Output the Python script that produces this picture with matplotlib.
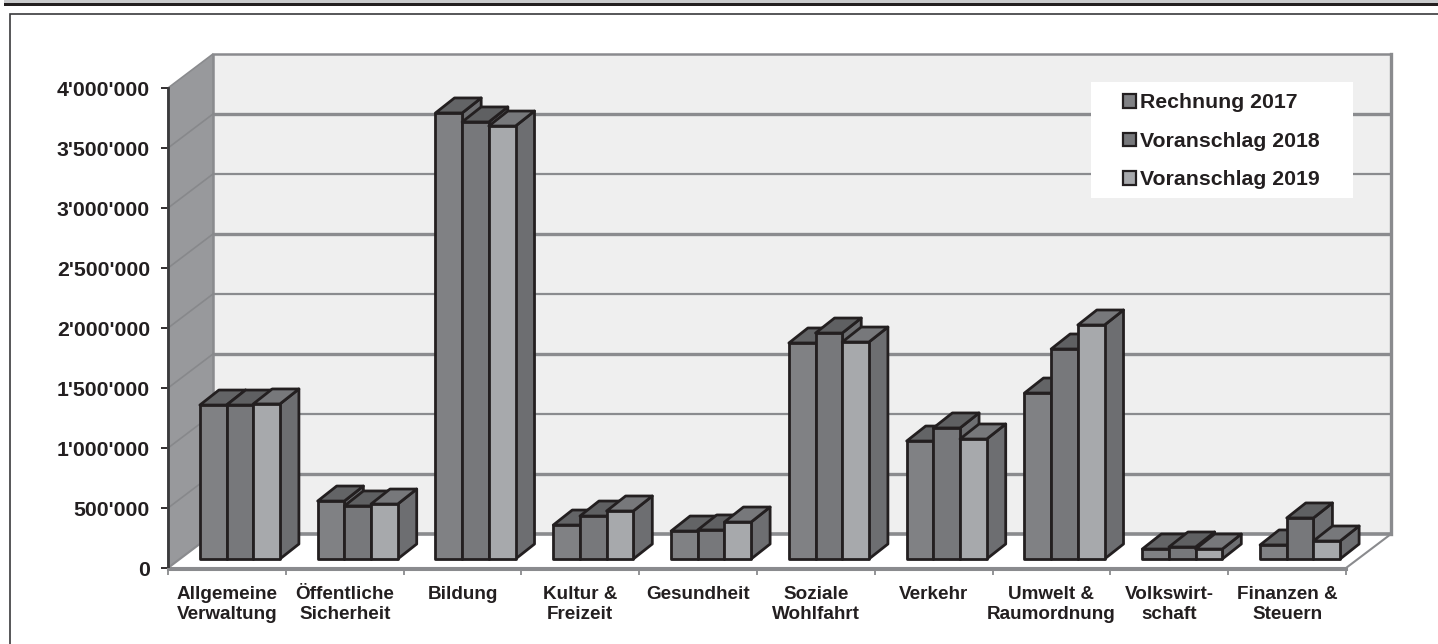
import matplotlib
matplotlib.use("Agg")
import matplotlib.pyplot as plt
from matplotlib.patches import Polygon, Rectangle, Patch
from matplotlib.ticker import FuncFormatter

plt.rcParams['font.family'] = ['Liberation Sans', 'DejaVu Sans']

W, H = 1438, 644
categories = ["Allgemeine\nVerwaltung", "Öffentliche\nSicherheit", "Bildung", "Kultur &\nFreizeit",
              "Gesundheit", "Soziale\nWohlfahrt", "Verkehr", "Umwelt &\nRaumordnung",
              "Volkswirt-\nschaft", "Finanzen &\nSteuern"]
series_names = ["Rechnung 2017", "Voranschlag 2018", "Voranschlag 2019"]
rechnung_2017 = [1283000, 483000, 3717000, 283000, 233000, 1800000, 983000, 1383000, 83000, 117000]
voranschlag_2018 = [1283000, 442000, 3642000, 358000, 242000, 1883000, 1092000, 1750000, 100000, 342000]
voranschlag_2019 = [1292000, 458000, 3608000, 400000, 308000, 1808000, 1000000, 1950000, 83000, 150000]
series = [rechnung_2017, voranschlag_2018, voranschlag_2019]
front_colors = ["#808184", "#77787b", "#a7a9ac"]
top_colors = ["#636466", "#5f6062", "#77787b"]
side_colors = ["#6d6e71", "#6d6e71", "#6d6e71"]
EDGE = "#231f20"
GRID = "#8a8b8e"

fig = plt.figure(figsize=(W / 100, H / 100), dpi=100, facecolor="white")

# page decorations
page = fig.add_axes([0, 0, 1, 1], zorder=0)
page.set_xlim(0, W); page.set_ylim(H, 0); page.axis("off")
page.add_patch(Rectangle((4, 0), W - 4, 3.2, fc="#c9cacc", ec="none"))
page.add_patch(Rectangle((4, 3.2), W - 4, 2.9, fc="#231f20", ec="none"))
page.plot([9.5, 9.5, W], [H, 13.5, 13.5], color="#3a3a3c", lw=1.2, solid_joinstyle="miter")

# axes: the front plane of the 3D box
x0, x1, ybot, ytop = 168, 1346, 568, 88
ax = fig.add_axes([x0 / W, 1 - ybot / H, (x1 - x0) / W, (ybot - ytop) / H], zorder=1)
ax.set_xlim(0, 10); ax.set_ylim(0, 4000000)
ax.patch.set_alpha(0)
for s in ax.spines.values():
    s.set_visible(False)

ux = (x1 - x0) / 10          # px per category
uy = (ybot - ytop) / 4000000  # px per value unit
DX, DY = 45 / ux, 34 / uy    # box depth in data units
yticks = list(range(0, 4000001, 500000))

# walls
ax.add_patch(Polygon([(DX, DY), (10 + DX, DY), (10 + DX, 4000000 + DY), (DX, 4000000 + DY)],
                     fc="#efefef", ec=GRID, lw=1.8, clip_on=False, zorder=1))
ax.add_patch(Polygon([(0, 0), (DX, DY), (DX, 4000000 + DY), (0, 4000000)],
                     fc="#98999c", ec=GRID, lw=1.2, clip_on=False, zorder=1))
ax.add_patch(Polygon([(0, 0), (10, 0), (10 + DX, DY), (DX, DY)],
                     fc="white", ec=GRID, lw=1.5, clip_on=False, zorder=1))
for i, v in enumerate(yticks[1:-1][::-1]):
    lw = 2.4 if i % 2 == 0 else 1.6
    ax.plot([DX, 10 + DX], [v + DY, v + DY], color=GRID, lw=lw, clip_on=False, zorder=2, solid_capstyle="butt")
    ax.plot([0, DX], [v, v + DY], color="#87888b", lw=1.2, clip_on=False, zorder=2)
ax.plot([DX, 10 + DX], [DY, DY], color=GRID, lw=2.6, clip_on=False, zorder=2, solid_capstyle="butt")
ax.plot([10 + DX, 10 + DX], [DY, 4000000 + DY], color=GRID, lw=2.4, clip_on=False, zorder=2)

# legend background (covers gridlines)
ax.add_patch(Rectangle(((1091 - x0) / ux, (ybot - 198) / uy), 262 / ux, 116 / uy,
                       fc="white", ec="none", clip_on=False, zorder=3))

# bars
bar_w = 26.67 / ux
off_x, off_y = 13 / ux, 9 / uy   # placement of the front plane of bars on the floor
dep_x, dep_y = 19 / ux, 15 / uy  # bar depth
z = 10
for c in range(len(categories)):
    start = c + 0.5 - 1.5 * bar_w + off_x
    for s, vals in enumerate(series):
        v = vals[c]
        l, r = start + s * bar_w, start + (s + 1) * bar_w
        b, t = off_y, off_y + v
        kw = dict(ec=EDGE, lw=2.0, joinstyle="round", clip_on=False, zorder=z)
        ax.add_patch(Polygon([(r, b), (r + dep_x, b + dep_y), (r + dep_x, t + dep_y), (r, t)],
                             fc=side_colors[s], **kw))
        ax.add_patch(Polygon([(l, t), (l + dep_x, t + dep_y), (r + dep_x, t + dep_y), (r, t)],
                             fc=top_colors[s], **kw))
        ax.add_patch(Polygon([(l, b), (r, b), (r, t), (l, t)], fc=front_colors[s], **kw))
        z += 1

# y axis
ax.set_yticks(yticks)
ax.yaxis.set_major_formatter(FuncFormatter(lambda v, p: f"{int(v):,}".replace(",", "'")))
ax.tick_params(axis="y", length=5, width=1.3, color=EDGE, pad=8, labelsize=15.3, labelcolor=EDGE)
for lb in ax.get_yticklabels():
    lb.set_fontweight("bold")
ax.plot([0, 0], [0, 4000000], color="#3a3a3c", lw=2, clip_on=False, zorder=5)

# x axis
ax.set_xticks(range(11))
ax.set_xticklabels([])
ax.set_xticks([i + 0.5 for i in range(10)], categories, minor=True)
ax.tick_params(axis="x", which="major", length=5, width=1.3, color=GRID)
ax.tick_params(axis="x", which="minor", length=0, pad=13, labelsize=13.6, labelcolor=EDGE)
for lb in ax.get_xticklabels(minor=True):
    lb.set_fontweight("bold")
    lb.set_linespacing(1.26)
ax.plot([0, 10], [-6000, -6000], color=GRID, lw=2.2, clip_on=False, zorder=5)

# legend
handles = [Patch(fc=c, ec=EDGE, lw=1.6, label=n) for c, n in zip(front_colors, series_names)]
leg = fig.legend(handles=handles, loc="upper left", bbox_to_anchor=(1117 / W, 1 - 87 / H),
                 frameon=False, handlelength=0.6, handleheight=0.6,
                 handletextpad=0.18, labelspacing=0.92, borderpad=0.3, borderaxespad=0,
                 labelcolor=EDGE, prop=dict(weight="bold", size=15.3))
leg.set_zorder(30)

fig.savefig("out.png", dpi=100, facecolor="white")
